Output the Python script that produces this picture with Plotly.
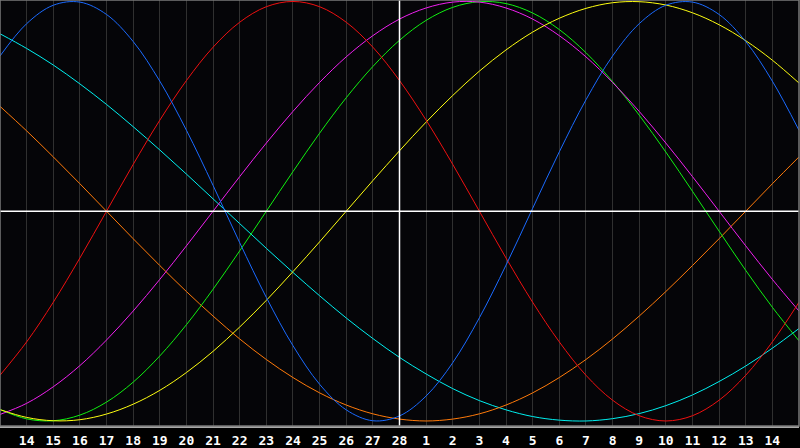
import plotly.graph_objects as go

# Day numbers along the x axis (first and last are unlabeled edges)
days = [13, 14, 15, 16, 17, 18, 19, 20, 21, 22, 23, 24, 25, 26, 27, 28,
        1, 2, 3, 4, 5, 6, 7, 8, 9, 10, 11, 12, 13, 14, 15]
today_index = 15  # day 28

# Cycle values read per day (-1 .. 1)
physical = [0.740, 0.894, 0.982, 0.997, 0.938, 0.809, 0.620, 0.386, 0.123, -0.150,
            -0.411, -0.641, -0.825, -0.947, -0.999, -0.976, -0.881, -0.722, -0.508, -0.257,
            0.014, 0.283, 0.531, 0.740, 0.894, 0.982, 0.997, 0.938, 0.809, 0.620, 0.386]
emotional = [-0.782, -0.623, -0.434, -0.223, 0.0, 0.223, 0.434, 0.623, 0.782, 0.901,
             0.975, 1.0, 0.975, 0.901, 0.782, 0.623, 0.434, 0.223, 0.0, -0.223,
             -0.434, -0.623, -0.782, -0.901, -0.975, -1.0, -0.975, -0.901, -0.782, -0.623, -0.434]
intellectual = [-0.945, -0.990, -0.999, -0.972, -0.910, -0.815, -0.690, -0.541, -0.372, -0.189,
                0.0, 0.189, 0.372, 0.541, 0.690, 0.815, 0.910, 0.972, 0.999, 0.990,
                0.945, 0.866, 0.756, 0.618, 0.458, 0.282, 0.095, -0.095, -0.282, -0.458, -0.618]
intuitive = [-0.969, -0.916, -0.837, -0.736, -0.614, -0.476, -0.325, -0.165, 0.0, 0.165,
             0.325, 0.476, 0.614, 0.736, 0.837, 0.916, 0.969, 0.997, 0.997, 0.969,
             0.916, 0.837, 0.736, 0.614, 0.476, 0.325, 0.165, 0.0, -0.165, -0.325, -0.476]
aesthetic = [-0.946, -0.983, -0.999, -0.994, -0.967, -0.920, -0.854, -0.769, -0.668, -0.552,
             -0.425, -0.288, -0.146, 0.0, 0.146, 0.288, 0.425, 0.552, 0.668, 0.769,
             0.854, 0.920, 0.967, 0.994, 0.999, 0.983, 0.946, 0.889, 0.813, 0.720, 0.611]
awareness = [0.500, 0.383, 0.259, 0.131, 0.0, -0.131, -0.259, -0.383, -0.500, -0.609,
             -0.707, -0.793, -0.866, -0.924, -0.966, -0.991, -1.0, -0.991, -0.966, -0.924,
             -0.866, -0.793, -0.707, -0.609, -0.500, -0.383, -0.259, -0.131, 0.0, 0.131, 0.259]
spiritual = [0.846, 0.776, 0.697, 0.607, 0.509, 0.403, 0.292, 0.177, 0.059, -0.059,
             -0.177, -0.292, -0.403, -0.509, -0.607, -0.697, -0.776, -0.846, -0.903, -0.947,
             -0.979, -0.996, -1.000, -0.989, -0.965, -0.927, -0.876, -0.812, -0.738, -0.653, -0.559]

series = [
    ("Spiritual", spiritual, "#00f0f0"),
    ("Awareness", awareness, "#ff7a0a"),
    ("Intellectual", intellectual, "#10f010"),
    ("Intuitive", intuitive, "#f020f0"),
    ("Aesthetic", aesthetic, "#ffff10"),
    ("Emotional", emotional, "#f01010"),
    ("Physical", physical, "#1a6aff"),
]

x = list(range(len(days)))
ticktext = [("" if i in (0, len(days) - 1) else str(d)) for i, d in enumerate(days)]

fig = go.Figure()
for name, vals, color in series:
    fig.add_trace(go.Scatter(x=x, y=vals, mode="lines", name=name,
                             line=dict(color=color, width=1, shape="spline", smoothing=1.0),
                             hoverinfo="skip"))

fig.add_vline(x=today_index, line=dict(color="#ffffff", width=1.5), layer="above")
fig.add_hline(y=0, line=dict(color="#ffffff", width=1.5), layer="above")

fig.update_layout(
    width=800, height=448,
    margin=dict(l=0, r=1, t=0, b=20),
    paper_bgcolor="#000000",
    plot_bgcolor="#050508",
    showlegend=False,
    font=dict(family="DejaVu Sans Mono", color="#ffffff", size=13),
)
fig.update_xaxes(
    range=[0, len(days) - 1],
    tickmode="array", tickvals=x, ticktext=ticktext,
    showgrid=True, gridcolor="#303030", gridwidth=1,
    showline=True, linecolor="#a8a8a8", linewidth=2, mirror=False,
    ticks="", ticklabelstandoff=1,
    tickfont=dict(family="DejaVu Sans Mono", size=13, color="#ffffff", weight="bold"),
    zeroline=False, fixedrange=True,
)
fig.update_yaxes(
    range=[-1.024, 1.007],
    showgrid=False, showticklabels=False, ticks="",
    zeroline=False,
    showline=False, fixedrange=True,
)
# thin gray frame on top, left and right
fig.add_shape(type="rect", xref="paper", yref="paper", x0=0, y0=0, x1=1, y1=1,
              line=dict(color="#7a7a7a", width=1.5), layer="above")

fig.write_html("out.html", config={"displayModeBar": False},
               post_script="document.body.style.margin='0';document.body.style.overflow='hidden';")
